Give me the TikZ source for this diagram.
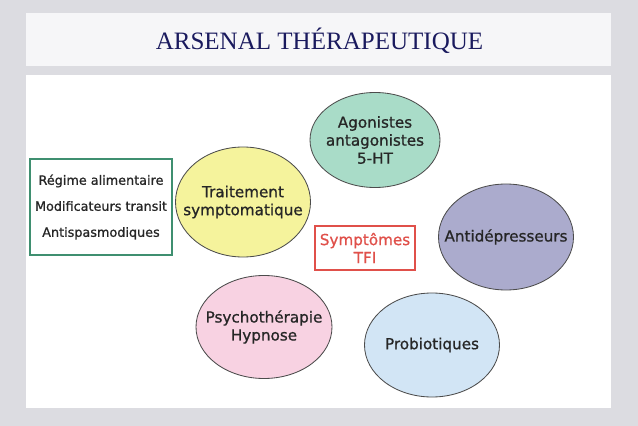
\documentclass[tikz,border=0pt]{standalone}
\usepackage{fontspec}
\setmainfont{Liberation Serif}
\newfontfamily\bubblefont[FakeBold=0.9]{DejaVu Sans}
\usetikzlibrary{shapes.geometric, positioning}
\definecolor{pagegray}{HTML}{DCDCE1}
\definecolor{titlebg}{HTML}{F6F6F8}
\definecolor{titleblue}{HTML}{1A1A5E}
\definecolor{boxgreen}{HTML}{3F8F70}
\definecolor{boxred}{HTML}{E0504A}
\definecolor{fillyellow}{HTML}{F5F39C}
\definecolor{fillteal}{HTML}{A9DCC8}
\definecolor{filllilac}{HTML}{ABABCD}
\definecolor{fillpink}{HTML}{F8D2E2}
\definecolor{fillblue}{HTML}{D2E5F5}
\tikzset{
x=0.025cm, y=-0.025cm, % one unit is one pixel of the slide
every bubble/.style={ellipse, draw=black!70, semithick, inner sep=-12pt, align=center, text=black!85, font=\bubblefont\fontsize{10.8}{12.8}\selectfont}, % the coloured ovals
bubble/.style n args={3}{every bubble, fill=#1, minimum width=#2*0.025cm, minimum height=#3*0.025cm}, % colour, width, height
textbox/.style={draw=#1, thick, align=center, inner sep=0pt}, % the two framed boxes
}

\begin{document}
\begin{tikzpicture}
        % slide background and panels
        \fill[pagegray] (0,0) rectangle (638,426);
        \fill[titlebg] (26,13) rectangle (611,66);
        \fill[white] (26,75) rectangle (611,408);
        \node[text=titleblue, font=\fontsize{17.8}{20}\selectfont] (title) at (319.5,41) {ARSENAL THÉRAPEUTIQUE};

        % the ovals
        \node[bubble={fillyellow}{135}{110}] (trait) at (243,202) {Traitement\\symptomatique};
        \node[bubble={fillteal}{130}{95}] (agon) at (375,140) {Agonistes\\antagonistes\\5-HT};
        \node[bubble={filllilac}{135}{106}] (antid) at (506,237) {Antidépresseurs};
        \node[bubble={fillpink}{136}{103}] (psycho) at (264,327) {Psychothérapie\\Hypnose};
        \node[bubble={fillblue}{135}{104}] (probio) at (432,345) {Probiotiques};

        % the boxes
        \node[textbox=boxred, text=boxred, minimum width=100*0.025cm, minimum height=44*0.025cm,
              font=\bubblefont\fontsize{10.8}{12.8}\selectfont] (sympt) at (365,248) {Symptômes\\TFI};
        \node[textbox=boxgreen, text=black!85, minimum width=142*0.025cm, minimum height=96*0.025cm,
              font=\bubblefont\fontsize{9.1}{18.5}\selectfont] (regime) at (101,207)
              {Régime alimentaire\\Modificateurs transit\\Antispasmodiques};
    \end{tikzpicture}
\end{document}
